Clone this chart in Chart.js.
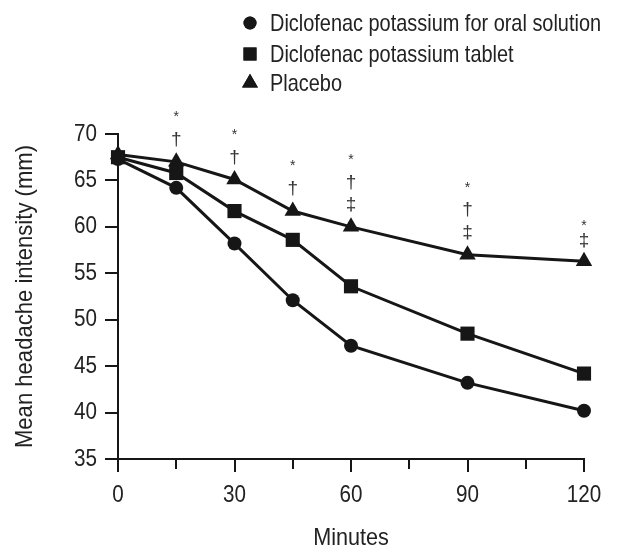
<!DOCTYPE html>
<html>
<head>
<meta charset="utf-8">
<script src="https://cdn.jsdelivr.net/npm/chart.js@4/dist/chart.umd.min.js"></script>
<style>
html,body{margin:0;padding:0;background:#fff;}
#wrap{width:617px;height:549px;position:relative;}
</style>
</head>
<body>
<div id="wrap"><canvas id="c"></canvas></div>
<script>
const minutes = [0, 15, 30, 45, 60, 90, 120];
const oralSolution = [67.3, 64.2, 58.2, 52.1, 47.2, 43.2, 40.2];
const tablet = [67.5, 65.8, 61.7, 58.6, 53.6, 48.5, 44.2];
const placebo = [67.8, 67.0, 65.1, 61.7, 60.0, 57.0, 56.3];
const significance = [[], ['*', '†'], ['*', '†'], ['*', '†'], ['*', '†', '‡'], ['*', '†', '‡'], ['*', '‡']];
const seriesNames = ['Diclofenac potassium for oral solution', 'Diclofenac potassium tablet', 'Placebo'];
const xTickLabels = [0, 30, 60, 90, 120];
const xMinorTicks = [15, 45, 75, 105];
const yTickLabels = [35, 40, 45, 50, 55, 60, 65, 70];
const xTitle = 'Minutes';
const yTitle = 'Mean headache intensity (mm)';

const FONT = '"Liberation Sans", Arial, sans-serif';
const INK = '#161616';
const TEXT = '#222';

const toXY = vals => vals.map((v, i) => ({x: minutes[i], y: v}));

function drawCondensed(ctx, text, x, y, size, sx, align, rot) {
  ctx.save();
  ctx.translate(x, y);
  if (rot) ctx.rotate(rot);
  ctx.scale(sx, 1);
  ctx.font = size + 'px ' + FONT;
  ctx.fillStyle = TEXT;
  ctx.textAlign = align;
  ctx.textBaseline = 'middle';
  ctx.fillText(text, 0, 0);
  ctx.restore();
}

const textPlugin = {
  id: 'condensedText',
  afterDraw(chart) {
    const ctx = chart.ctx;
    const xs = chart.scales.x, ys = chart.scales.y, ca = chart.chartArea;
    // shorter minor ticks
    ctx.save();
    ctx.fillStyle = '#fff';
    xMinorTicks.forEach(v => ctx.fillRect(xs.getPixelForValue(v) - 3, ca.bottom + 10, 6, 6));
    ctx.restore();
    // tick labels
    yTickLabels.forEach(v => drawCondensed(ctx, String(v), ca.left - 21, ys.getPixelForValue(v), 24, 0.86, 'right'));
    xTickLabels.forEach(v => drawCondensed(ctx, String(v), xs.getPixelForValue(v), ca.bottom + 36, 24, 0.86, 'center'));
    // axis titles
    drawCondensed(ctx, xTitle, (ca.left + ca.right) / 2, ca.bottom + 79, 24, 0.9, 'center');
    drawCondensed(ctx, yTitle, 25, (ca.top + ca.bottom) / 2, 24, 0.92, 'center', -Math.PI / 2);
    // legend
    const rows = [23, 54, 83];
    chart.data.datasets.forEach((ds, i) => {
      ctx.save();
      ctx.fillStyle = INK;
      Chart.helpers.drawPoint(ctx, {pointStyle: ds.pointStyle, rotation: 0, radius: ds.legendRadius, borderWidth: 0}, 250, rows[i]);
      ctx.fill();
      ctx.restore();
      drawCondensed(ctx, ds.label, 270, rows[i] + 1, 24, 0.83, 'left');
    });
  }
};

const sigPlugin = {
  id: 'sigMarks',
  afterDatasetsDraw(chart) {
    const ctx = chart.ctx;
    const xs = chart.scales.x, ys = chart.scales.y;
    ctx.save();
    ctx.fillStyle = '#333';
    ctx.textAlign = 'center';
    ctx.textBaseline = 'middle';
    significance.forEach((marks, i) => {
      if (!marks.length) return;
      const px = xs.getPixelForValue(minutes[i]);
      const py = ys.getPixelForValue(placebo[i]);
      const last = i === significance.length - 1;
      const base = last ? 20 : 22, gap = last ? 15 : 22.5;
      for (let k = 0; k < marks.length; k++) {
        const m = marks[marks.length - 1 - k];
        const y = py - base - k * gap;
        ctx.font = (m === '*' ? '14px ' : '19px ') + FONT;
        ctx.fillText(m, px, y);
      }
    });
    ctx.restore();
  }
};

new Chart(document.getElementById('c'), {
  type: 'line',
  data: {
    datasets: [
      {label: seriesNames[0], data: toXY(oralSolution), pointStyle: 'circle', pointRadius: 7, legendRadius: 6.5},
      {label: seriesNames[1], data: toXY(tablet), pointStyle: 'rect', pointRadius: 10, legendRadius: 9.2},
      {label: seriesNames[2], data: toXY(placebo), pointStyle: 'triangle', pointRadius: 9.5, legendRadius: 9.2}
    ].map(d => Object.assign({
      borderColor: INK, backgroundColor: INK, pointBackgroundColor: INK, pointBorderColor: INK,
      borderWidth: 3, pointBorderWidth: 0, tension: 0, clip: false
    }, d))
  },
  options: {
    responsive: true,
    maintainAspectRatio: false,
    animation: false,
    layout: {padding: {top: 134, right: 33, bottom: 77, left: 105}},
    plugins: {legend: {display: false}, tooltip: {enabled: false}},
    scales: {
      x: {
        type: 'linear', min: 0, max: 120,
        ticks: {stepSize: 15, display: false},
        grid: {drawOnChartArea: false, drawTicks: true, tickLength: 13, color: INK, lineWidth: 2},
        border: {display: true, color: INK, width: 2}
      },
      y: {
        min: 35, max: 70,
        ticks: {stepSize: 5, display: false},
        grid: {drawOnChartArea: false, drawTicks: true, tickLength: 13, color: INK, lineWidth: 2},
        border: {display: true, color: INK, width: 2}
      }
    }
  },
  plugins: [textPlugin, sigPlugin]
});
</script>
</body>
</html>
